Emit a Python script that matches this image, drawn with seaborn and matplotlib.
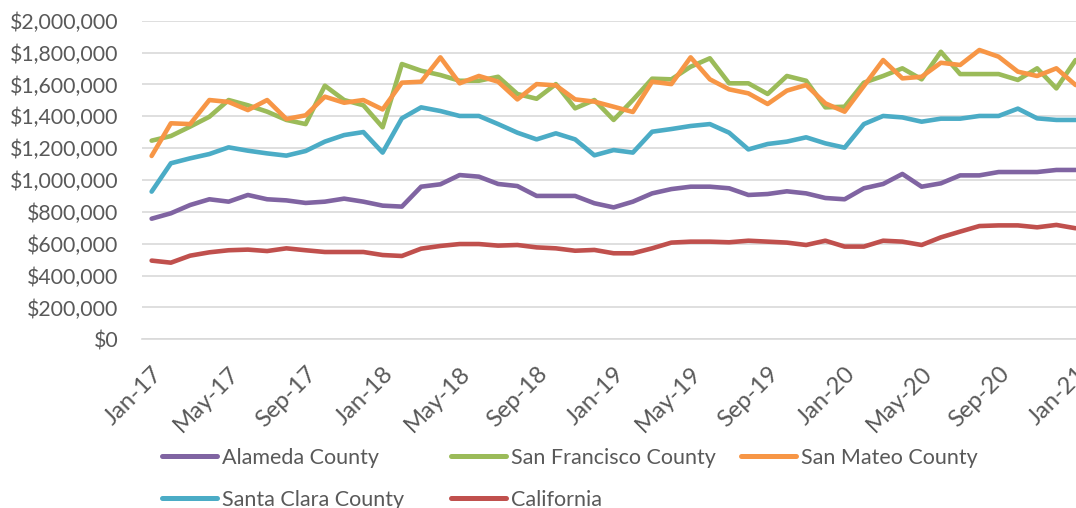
import numpy as np
import pandas as pd
import matplotlib
matplotlib.use("Agg")
import matplotlib.pyplot as plt
import matplotlib.transforms as mtransforms
import seaborn as sns
from matplotlib.ticker import FuncFormatter, FixedLocator

# ---- data (values in $ thousands) ----
months = [f"{m}-{y}" for y in range(17, 22) for m in
          ["Jan", "Feb", "Mar", "Apr", "May", "Jun", "Jul", "Aug", "Sep", "Oct", "Nov", "Dec"]][:49]
tick_labels = ["Jan-17", "May-17", "Sep-17", "Jan-18", "May-18", "Sep-18", "Jan-19",
               "May-19", "Sep-19", "Jan-20", "May-20", "Sep-20", "Jan-21"]

alameda = [757, 791, 843, 879, 864, 906, 879, 872, 856, 864, 883, 864, 839, 833, 958, 973,
           1031, 1021, 975, 962, 900, 900, 900, 854, 828, 864, 916, 943, 958, 958, 948, 906,
           912, 929, 916, 887, 879, 948, 975, 1038, 958, 979, 1029, 1029, 1050, 1050, 1050, 1063, 1063]
san_francisco = [1247, 1276, 1335, 1397, 1502, 1469, 1429, 1377, 1351, 1592, 1502, 1469, 1331, 1728, 1686, 1659,
                 1623, 1623, 1648, 1540, 1510, 1602, 1450, 1502, 1377, 1502, 1636, 1632, 1711, 1764, 1607, 1607,
                 1540, 1653, 1623, 1456, 1460, 1611, 1653, 1701, 1632, 1805, 1665, 1665, 1665, 1628, 1701, 1575, 1753]
san_mateo = [1151, 1356, 1351, 1502, 1490, 1439, 1502, 1383, 1406, 1523, 1485, 1502, 1443, 1611, 1617, 1770,
             1607, 1653, 1617, 1506, 1602, 1594, 1506, 1492, 1460, 1427, 1617, 1602, 1770, 1632, 1569, 1544,
             1477, 1561, 1596, 1481, 1429, 1590, 1753, 1638, 1648, 1736, 1722, 1816, 1774, 1680, 1653, 1701, 1596]
santa_clara = [927, 1105, 1136, 1163, 1205, 1184, 1167, 1153, 1182, 1241, 1282, 1301, 1172, 1387, 1456, 1433,
               1402, 1402, 1351, 1297, 1255, 1293, 1255, 1155, 1188, 1172, 1303, 1320, 1339, 1351, 1297, 1192,
               1226, 1241, 1268, 1230, 1203, 1351, 1402, 1393, 1366, 1385, 1385, 1402, 1402, 1448, 1387, 1377, 1377]
california = [494, 481, 525, 546, 559, 563, 554, 571, 559, 548, 548, 548, 529, 523, 569, 586,
              598, 598, 588, 592, 577, 571, 556, 561, 540, 540, 571, 607, 613, 613, 609, 619,
              613, 607, 592, 619, 582, 582, 619, 613, 592, 640, 676, 711, 715, 715, 703, 718, 697]

series_names = ["Alameda County", "San Francisco County", "San Mateo County",
                "Santa Clara County", "California"]
series_values = [alameda, san_francisco, san_mateo, santa_clara, california]
colors = ["#8064A2", "#9BBB59", "#F79646", "#4BACC6", "#C0504D"]

rows = []
for name, vals in zip(series_names, series_values):
    for i, v in enumerate(vals):
        rows.append({"idx": i, "month": months[i], "series": name, "price": v * 1000})
df = pd.DataFrame(rows)

# ---- figure ----
sns.set_theme(style="white")
plt.rcParams["font.family"] = ["Lato", "DejaVu Sans"]
text_color = "#595959"
grid_color = "#D9D9D9"

W, H = 1076, 508
fig = plt.figure(figsize=(W / 100, H / 100), dpi=100)
left, right, top, bottom = 142, 1085.25, 20.7, 339.3
ax = fig.add_axes([left / W, 1 - bottom / H, (right - left) / W, (bottom - top) / H])

sns.lineplot(data=df, x="idx", y="price", hue="series", hue_order=series_names,
             palette=colors, linewidth=3.3, ax=ax, legend=True, sort=False)
for ln in ax.lines:
    ln.set_solid_capstyle("round")
    ln.set_solid_joinstyle("round")

ax.set_xlim(-0.5, 48.5)
ax.set_ylim(0, 2_000_000)
ax.set_yticks(np.arange(0, 2_000_001, 200_000))
ax.yaxis.set_major_formatter(FuncFormatter(lambda v, p: f"${v:,.0f}"))
ax.grid(axis="y", color=grid_color, linewidth=1.2)
ax.set_axisbelow(True)

tick_pos = [months.index(t) for t in tick_labels]
ax.set_xticks(tick_pos)
ax.set_xticklabels(tick_labels, rotation=45, ha="right", va="top", rotation_mode="anchor")
offset = mtransforms.ScaledTranslation(2.5 / 100, 0, fig.dpi_scale_trans)
for lbl in ax.get_xticklabels():
    lbl.set_transform(lbl.get_transform() + offset)
ax.xaxis.set_minor_locator(FixedLocator(np.arange(-0.5, 49, 4)))
ax.tick_params(axis="x", which="major", length=0, pad=17, labelsize=17.2, labelcolor=text_color)
ax.tick_params(axis="x", which="minor", length=6, width=1.2, color=grid_color, direction="out")
ax.tick_params(axis="y", length=0, pad=17, labelsize=15.3, labelcolor=text_color)

for s in ["left", "right", "top"]:
    ax.spines[s].set_visible(False)
ax.spines["bottom"].set_color(grid_color)
ax.spines["bottom"].set_linewidth(1.2)
ax.set_xlabel("")
ax.set_ylabel("")

handles, labels = ax.get_legend_handles_labels()
ax.get_legend().remove()
hmap = dict(zip(labels, handles))
columns = [["Alameda County", "Santa Clara County"],
           ["San Francisco County", "California"],
           ["San Mateo County"]]
col_x = [162, 451, 741]
for names, cx in zip(columns, col_x):
    leg = fig.legend([hmap[n] for n in names], names, loc="upper left",
                     bbox_to_anchor=(cx / W, 1 - 448 / H), frameon=False,
                     fontsize=15.5, handlelength=2.55, handletextpad=0.22,
                     labelspacing=1.02, borderpad=0, borderaxespad=0,
                     labelcolor=text_color)
    for lh in leg.get_lines():
        lh.set_linewidth(3.6)
        lh.set_solid_capstyle("round")

fig.savefig("out.png", dpi=100)
